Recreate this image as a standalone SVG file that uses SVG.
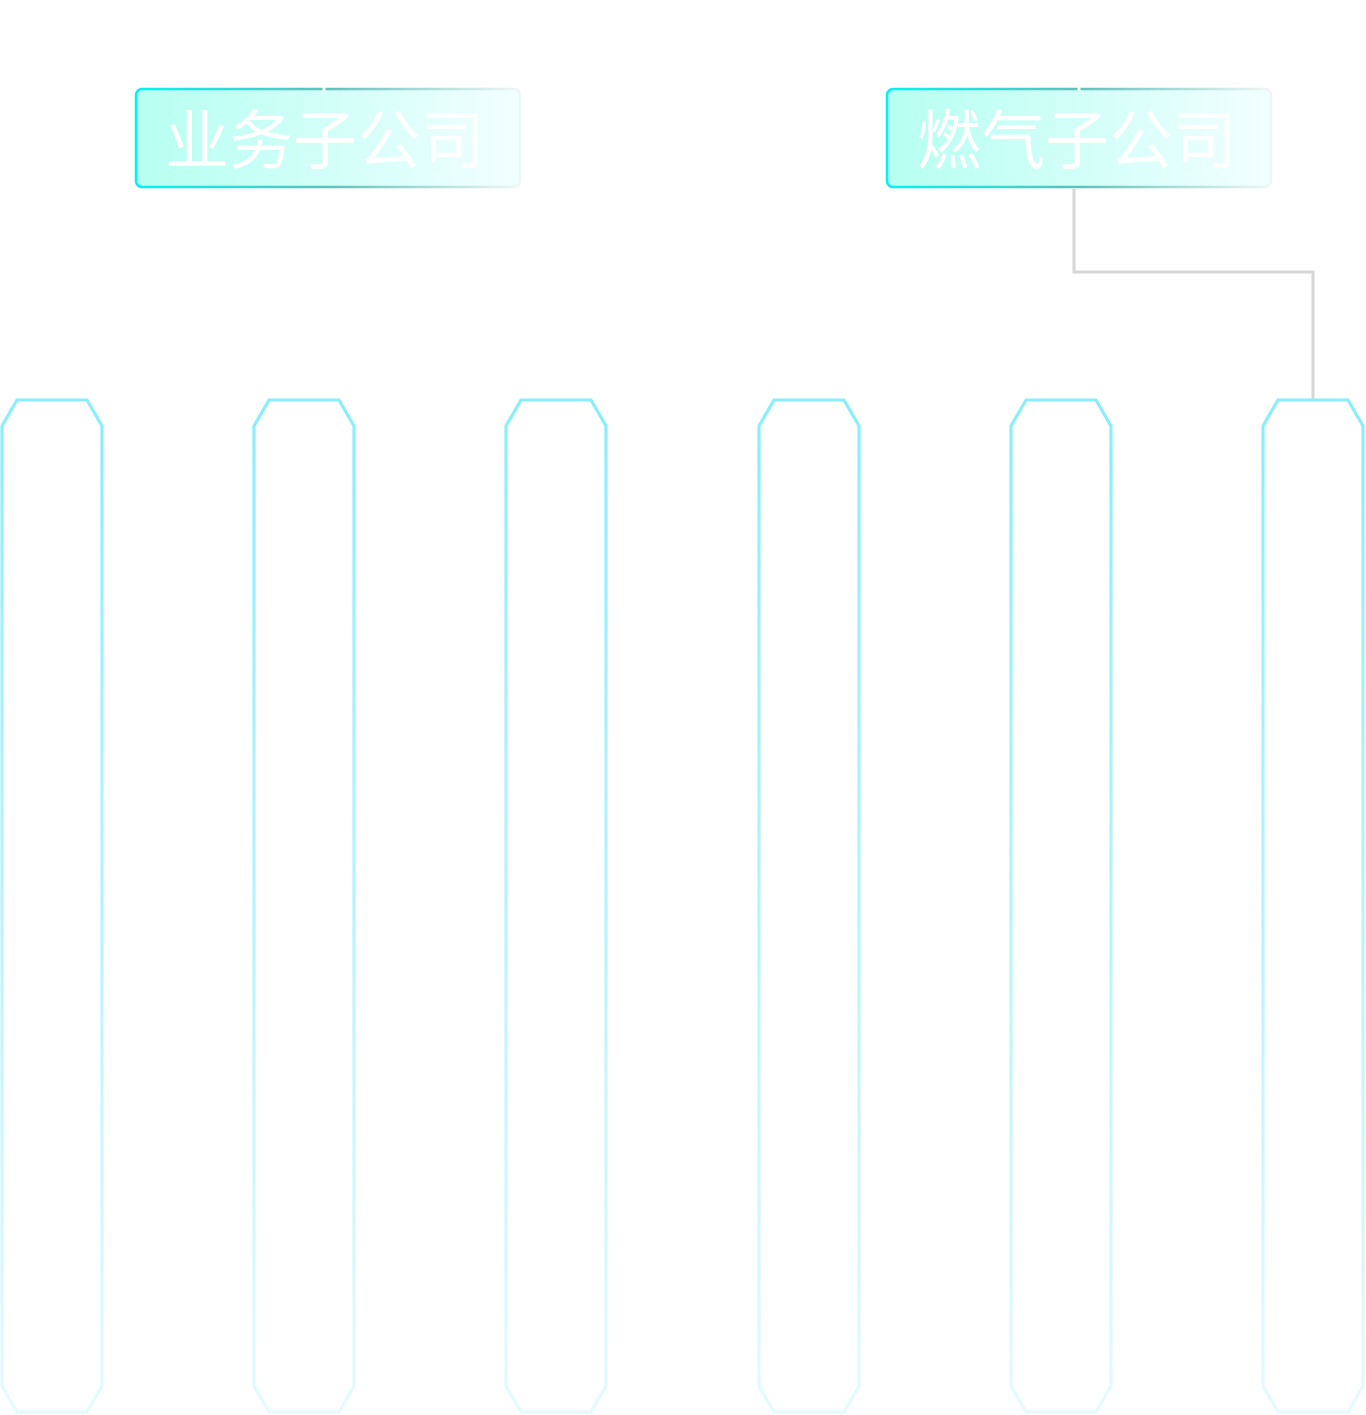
<svg xmlns="http://www.w3.org/2000/svg" width="1366" height="1415" viewBox="0 0 1366 1415">
<defs>
<linearGradient id="boxFill" x1="0" y1="0" x2="1" y2="0">
<stop offset="0" stop-color="#b6fff1"/>
<stop offset="0.6" stop-color="#d8fffa"/>
<stop offset="1" stop-color="#f2ffff"/>
</linearGradient>
<linearGradient id="boxStroke" x1="0" y1="0" x2="1" y2="0">
<stop offset="0" stop-color="#00f4f4"/>
<stop offset="0.5" stop-color="#5cc2ba"/>
<stop offset="1" stop-color="#f0f6f6"/>
</linearGradient>
<linearGradient id="colStroke" x1="0" y1="0" x2="0" y2="1">
<stop offset="0" stop-color="#88eefb"/>
<stop offset="1" stop-color="#e4fbfd"/>
</linearGradient>
<polygon id="col" points="17,400 87,400 102,426 102,1386 87,1412 17,1412 2,1386 2,426"/>
</defs>
<style>
.box{fill:url(#boxFill);stroke:url(#boxStroke);stroke-width:2.5}
.lbl{font-family:"Noto Sans CJK SC","Noto Sans",sans-serif;font-size:64px;fill:#ffffff;text-anchor:middle}
.column{fill:none;stroke:url(#colStroke);stroke-width:3.2}
.conn{fill:none;stroke:#d6d6d6;stroke-width:3}
.tick{stroke:#ffffff;stroke-width:3}
</style>
<g id="connectors">
<polyline class="conn" points="1074,189 1074,272 1313,272 1313,399"/>
</g>
<g id="node-yewu">
<rect class="box" x="136" y="89" width="384" height="98" rx="6"/>
<line class="tick" x1="324" y1="87" x2="324" y2="91"/>
<text class="lbl" x="325" y="163">业务子公司</text>
</g>
<g id="node-ranqi">
<rect class="box" x="887" y="89" width="384" height="98" rx="6"/>
<line class="tick" x1="1079" y1="87" x2="1079" y2="91"/>
<text class="lbl" x="1077" y="163">燃气子公司</text>
</g>
<g id="col-1"><use href="#col" class="column" transform="translate(0,0)"/></g>
<g id="col-2"><use href="#col" class="column" transform="translate(252,0)"/></g>
<g id="col-3"><use href="#col" class="column" transform="translate(504,0)"/></g>
<g id="col-4"><use href="#col" class="column" transform="translate(757,0)"/></g>
<g id="col-5"><use href="#col" class="column" transform="translate(1009,0)"/></g>
<g id="col-6"><use href="#col" class="column" transform="translate(1261,0)"/></g>
</svg>
